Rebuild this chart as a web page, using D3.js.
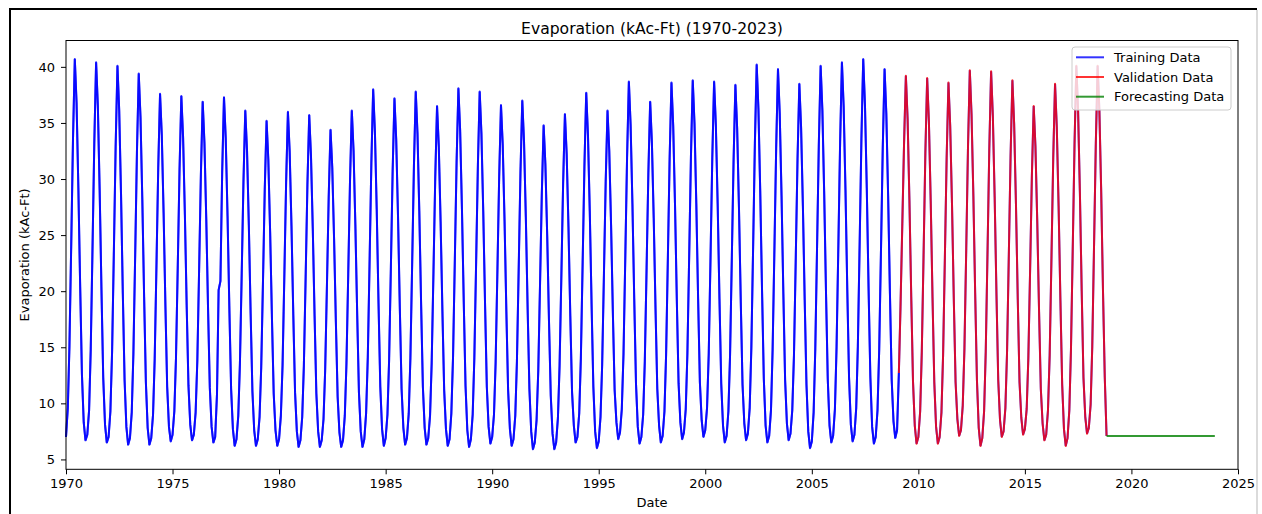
<!DOCTYPE html>
<html>
<head>
	<meta charset="utf-8">
	<title>Evaporation</title>
	<script src="https://d3js.org/d3.v7.min.js"></script>
	<style>
		body { margin: 0; background: #fff; }
		svg { display: block; font-family: "DejaVu Sans", sans-serif; }
		.tick text { font-size: 13px; fill: #000; }
		.tick line { stroke: #000; }
	</style>
</head>
<body>

<svg id="chart" width="1262" height="514"></svg>

<script>

// monthly evaporation, kAc-Ft
var trainingStart = new Date(1970, 0, 1);
var trainingValues = [
  7.0, 9.6, 15.1, 24.3, 33.6, 40.7, 36.8, 29.2, 20.4, 12.6, 8.3, 6.7,   // 1970
  7.2, 9.4, 14.8, 24.0, 33.2, 40.4, 36.5, 29.0, 20.1, 12.3, 8.1, 6.5,   // 1971
  7.0, 9.3, 14.6, 23.7, 32.9, 40.1, 36.1, 28.7, 19.8, 12.1, 7.9, 6.3,   // 1972
  6.9, 9.2, 14.4, 23.3, 32.4, 39.4, 35.5, 28.2, 19.5, 11.9, 7.8, 6.3,   // 1973
  6.9, 9.0, 13.9, 22.4, 31.0, 37.6, 33.9, 27.0, 18.7, 11.5, 7.9, 6.6,   // 1974
  7.2, 9.3, 14.0, 22.3, 30.8, 37.4, 33.7, 26.8, 18.6, 11.6, 8.1, 6.7,   // 1975
  7.2, 9.2, 13.8, 22.0, 30.4, 36.9, 33.2, 26.5, 18.4, 11.4, 7.9, 6.5,   // 1976
  7.0, 10.8, 20.1, 20.9, 30.6, 37.3, 33.6, 26.7, 18.5, 11.3, 7.7, 6.2,  // 1977
  6.8, 8.9, 13.5, 21.6, 29.8, 36.1, 32.5, 25.9, 18.0, 11.1, 7.6, 6.2,   // 1978
  6.8, 8.8, 13.2, 21.0, 29.1, 35.2, 31.7, 25.3, 17.6, 10.9, 7.6, 6.2,   // 1979
  6.8, 8.9, 13.4, 21.5, 29.7, 36.0, 32.4, 25.8, 17.9, 11.0, 7.5, 6.1,   // 1980
  6.7, 8.8, 13.3, 21.3, 29.5, 35.7, 32.1, 25.6, 17.8, 10.9, 7.5, 6.1,   // 1981
  6.7, 8.6, 12.9, 20.6, 28.4, 34.4, 31.0, 24.7, 17.2, 10.6, 7.4, 6.1,   // 1982
  6.7, 8.9, 13.5, 21.6, 29.8, 36.1, 32.5, 25.9, 18.0, 11.0, 7.5, 6.1,   // 1983
  6.8, 9.1, 14.1, 22.7, 31.4, 38.0, 34.2, 27.3, 18.9, 11.5, 7.7, 6.2,   // 1984
  6.9, 9.0, 13.8, 22.2, 30.7, 37.2, 33.5, 26.7, 18.5, 11.3, 7.8, 6.3,   // 1985
  6.9, 9.1, 14.0, 22.6, 31.2, 37.8, 34.0, 27.1, 18.8, 11.5, 7.8, 6.3,   // 1986
  6.9, 8.9, 13.6, 21.8, 30.1, 36.5, 32.9, 26.2, 18.2, 11.2, 7.7, 6.2,   // 1987
  6.8, 9.1, 14.1, 22.8, 31.5, 38.1, 34.3, 27.3, 19.0, 11.6, 7.6, 6.1,   // 1988
  6.8, 9.0, 14.0, 22.6, 31.2, 37.8, 34.0, 27.1, 18.8, 11.5, 7.9, 6.4,   // 1989
  7.0, 9.0, 13.6, 21.9, 30.2, 36.6, 33.0, 26.3, 18.2, 11.2, 7.7, 6.2,   // 1990
  6.8, 8.9, 13.7, 22.1, 30.6, 37.0, 33.3, 26.6, 18.4, 11.3, 7.5, 5.9,   // 1991
  6.5, 8.5, 12.9, 20.8, 28.7, 34.8, 31.3, 25.0, 17.3, 10.7, 7.3, 5.9,   // 1992
  6.5, 8.7, 13.3, 21.4, 29.6, 35.8, 32.2, 25.7, 17.8, 11.0, 8.0, 6.5,   // 1993
  7.0, 9.1, 14.0, 22.6, 31.1, 37.7, 33.9, 27.1, 18.8, 11.5, 7.5, 6.0,   // 1994
  6.6, 8.8, 13.4, 21.6, 29.8, 36.1, 32.5, 25.9, 18.0, 11.2, 8.3, 6.8,   // 1995
  7.4, 9.5, 14.4, 23.1, 31.9, 38.7, 34.8, 27.8, 19.3, 11.8, 7.9, 6.4,   // 1996
  7.0, 9.0, 13.7, 22.1, 30.5, 36.9, 33.2, 26.5, 18.4, 11.3, 8.0, 6.5,   // 1997
  7.1, 9.3, 14.3, 23.1, 31.9, 38.6, 34.7, 27.7, 19.2, 11.8, 8.3, 6.8,   // 1998
  7.4, 9.5, 14.4, 23.2, 32.0, 38.8, 34.9, 27.8, 19.3, 11.9, 8.5, 7.0,   // 1999
  7.6, 9.6, 14.4, 23.1, 31.9, 38.7, 34.8, 27.8, 19.3, 11.8, 8.0, 6.5,   // 2000
  7.1, 9.3, 14.2, 23.0, 31.7, 38.4, 34.5, 27.5, 19.1, 11.7, 8.2, 6.7,   // 2001
  7.3, 9.6, 14.9, 24.0, 33.2, 40.2, 36.2, 28.8, 20.0, 12.2, 8.0, 6.5,   // 2002
  7.1, 9.4, 14.8, 23.8, 32.8, 39.8, 35.8, 28.5, 19.8, 12.1, 8.2, 6.7,   // 2003
  7.3, 9.4, 14.3, 23.0, 31.8, 38.5, 34.6, 27.6, 19.2, 11.7, 7.5, 6.0,   // 2004
  6.6, 9.2, 14.8, 24.0, 33.1, 40.1, 36.1, 28.7, 19.9, 12.2, 8.0, 6.5,   // 2005
  7.1, 9.5, 15.0, 24.1, 33.3, 40.4, 36.4, 29.0, 20.1, 12.3, 8.1, 6.6,   // 2006
  7.2, 9.6, 15.1, 24.3, 33.6, 40.7, 36.6, 29.2, 20.2, 12.4, 7.9, 6.4,   // 2007
  7.0, 9.4, 14.8, 23.8, 32.8, 39.8, 35.8, 28.5, 19.8, 12.1, 8.4, 6.9,   // 2008
  7.6, 12.7                                                             // 2009 Jan-Feb
];

var validationStart = new Date(2009, 1, 1);
var validationValues = [
  12.7, 18.6, 26.0, 33.2, 39.2, 35.3, 28.1, 19.5, 12.0, 8.0, 6.4,      // 2009 Feb-Dec
  7.0, 9.3, 14.6, 23.4, 32.3, 39.0, 35.1, 28.0, 19.4, 11.9, 7.9, 6.4,   // 2010
  7.0, 9.2, 14.3, 23.1, 31.9, 38.6, 34.7, 27.7, 19.2, 11.9, 8.6, 7.1,   // 2011
  7.6, 9.8, 14.9, 23.8, 32.9, 39.7, 35.7, 28.5, 19.8, 12.1, 7.8, 6.2,   // 2012
  6.9, 9.3, 14.6, 23.6, 32.7, 39.6, 35.6, 28.4, 19.7, 12.1, 8.5, 7.0,   // 2013
  7.5, 9.6, 14.5, 23.3, 32.1, 38.8, 34.9, 27.8, 19.3, 11.9, 8.7, 7.2,   // 2014
  7.7, 9.5, 14.0, 22.0, 30.3, 36.5, 32.9, 26.2, 18.2, 11.3, 8.2, 6.7,   // 2015
  7.2, 9.4, 14.3, 23.1, 31.9, 38.5, 34.6, 27.6, 19.2, 11.7, 7.7, 6.2,   // 2016
  6.9, 9.4, 14.8, 24.0, 33.1, 40.1, 36.1, 28.8, 20.0, 12.3, 8.8, 7.3,   // 2017
  7.8, 9.9, 15.1, 24.2, 33.2, 40.1, 36.1, 28.9, 20.0, 12.4, 7.1         // 2018 Jan-Nov
];

var forecastStart = new Date(2018, 10, 1);
var forecastValues = [
  7.08, 7.08,                                                                   // 2018
  7.08, 7.08, 7.08, 7.08, 7.08, 7.08, 7.08, 7.08, 7.08, 7.08, 7.08, 7.08,       // 2019
  7.08, 7.08, 7.08, 7.08, 7.08, 7.08, 7.08, 7.08, 7.08, 7.08, 7.08, 7.08,       // 2020
  7.08, 7.08, 7.08, 7.08, 7.08, 7.08, 7.08, 7.08, 7.08, 7.08, 7.08, 7.08,       // 2021
  7.08, 7.08, 7.08, 7.08, 7.08, 7.08, 7.08, 7.08, 7.08, 7.08, 7.08, 7.08,       // 2022
  7.08, 7.08, 7.08, 7.08, 7.08, 7.08, 7.08, 7.08, 7.08, 7.08, 7.08, 7.08        // 2023
];

var xTickYears = [1970, 1975, 1980, 1985, 1990, 1995, 2000, 2005, 2010, 2015, 2020, 2025];
var yTicks = [5, 10, 15, 20, 25, 30, 35, 40];
var seriesNames = ["Training Data", "Validation Data", "Forecasting Data"];
var seriesColors = ["#0000ff", "#ff0000", "#008000"];

function monthly(start, values) {
  return values.map(function(v, i) { return { date: d3.timeMonth.offset(start, i), value: v }; });
}

var training = monthly(trainingStart, trainingValues);
var validation = monthly(validationStart, validationValues);
var forecast = monthly(forecastStart, forecastValues);

var svg = d3.select("#chart");

var plotLeft = 66, plotRight = 1238, plotTop = 40.5, plotBottom = 469.3;

var x = d3.scaleTime()
    .domain([new Date(1970, 0, 1), new Date(2025, 0, 1)])
    .range([plotLeft, plotRight]);

var y = d3.scaleLinear()
    .domain([4.12, 42.35])
    .range([plotBottom, plotTop]);

// outer frame of the screenshot
svg.append("line").attr("x1", 9).attr("x2", 1257).attr("y1", 9).attr("y2", 9)
    .attr("stroke", "#000").attr("stroke-width", 2);
svg.append("line").attr("x1", 10).attr("x2", 10).attr("y1", 8).attr("y2", 514)
    .attr("stroke", "#000").attr("stroke-width", 2);
svg.append("line").attr("x1", 1257).attr("x2", 1257).attr("y1", 10).attr("y2", 514)
    .attr("stroke", "#cfcfcf").attr("stroke-width", 1.5);

var line = d3.line()
    .x(function(d) { return x(d.date); })
    .y(function(d) { return y(d.value); });

// full observed series underneath, then the three parts
svg.append("path")
    .datum(training.concat(validation.slice(1)))
    .attr("d", line)
    .attr("fill", "none")
    .attr("stroke", seriesColors[0])
    .attr("stroke-opacity", 0.8)
    .attr("stroke-width", 2);

[training, validation, forecast].forEach(function(s, i) {
  svg.append("path")
      .datum(s)
      .attr("d", line)
      .attr("fill", "none")
      .attr("stroke", seriesColors[i])
      .attr("stroke-opacity", 0.8)
      .attr("stroke-width", 2)
      .attr("stroke-linejoin", "round");
});

// axes
var xAxis = d3.axisBottom(x)
    .tickValues(xTickYears.map(function(yr) { return new Date(yr, 0, 1); }))
    .tickFormat(d3.timeFormat("%Y"))
    .tickSize(5)
    .tickPadding(4)
    .tickSizeOuter(0);

svg.append("g")
    .attr("transform", "translate(0," + plotBottom + ")")
    .call(xAxis)
    .call(function(g) { g.select(".domain").remove(); });

var yAxis = d3.axisLeft(y)
    .tickValues(yTicks)
    .tickSize(5)
    .tickPadding(6)
    .tickSizeOuter(0);

svg.append("g")
    .attr("transform", "translate(" + plotLeft + ",0)")
    .call(yAxis)
    .call(function(g) { g.select(".domain").remove(); });

svg.selectAll(".tick text").attr("font-family", "DejaVu Sans").attr("font-size", 13);

svg.append("rect")
    .attr("x", plotLeft).attr("y", plotTop)
    .attr("width", plotRight - plotLeft).attr("height", plotBottom - plotTop)
    .attr("fill", "none")
    .attr("stroke", "#000")
    .attr("stroke-width", 1);

// titles
svg.append("text")
    .attr("x", (plotLeft + plotRight) / 2).attr("y", 33.5)
    .attr("text-anchor", "middle")
    .attr("font-size", 15.6)
    .text("Evaporation (kAc-Ft) (1970-2023)");

svg.append("text")
    .attr("x", (plotLeft + plotRight) / 2).attr("y", 507)
    .attr("text-anchor", "middle")
    .attr("font-size", 13)
    .text("Date");

svg.append("text")
    .attr("transform", "translate(29," + ((plotTop + plotBottom) / 2) + ") rotate(-90)")
    .attr("text-anchor", "middle")
    .attr("font-size", 13)
    .text("Evaporation (kAc-Ft)");

// legend
var legend = svg.append("g").attr("transform", "translate(1072,47)");

legend.append("rect")
    .attr("width", 159).attr("height", 63)
    .attr("rx", 3)
    .attr("fill", "#fff").attr("fill-opacity", 0.8)
    .attr("stroke", "#cccccc").attr("stroke-width", 1);

var item = legend.selectAll(".item")
    .data(seriesNames)
  .enter().append("g")
    .attr("class", "item")
    .attr("transform", function(d, i) { return "translate(0," + (10.3 + i * 19.7) + ")"; });

item.append("line")
    .attr("x1", 4).attr("x2", 32)
    .attr("stroke", function(d, i) { return seriesColors[i]; })
    .attr("stroke-opacity", 0.8)
    .attr("stroke-width", 2);

item.append("text")
    .attr("x", 42).attr("dy", "0.36em")
    .attr("font-size", 13)
    .text(function(d) { return d; });

</script>

</body>
</html>
